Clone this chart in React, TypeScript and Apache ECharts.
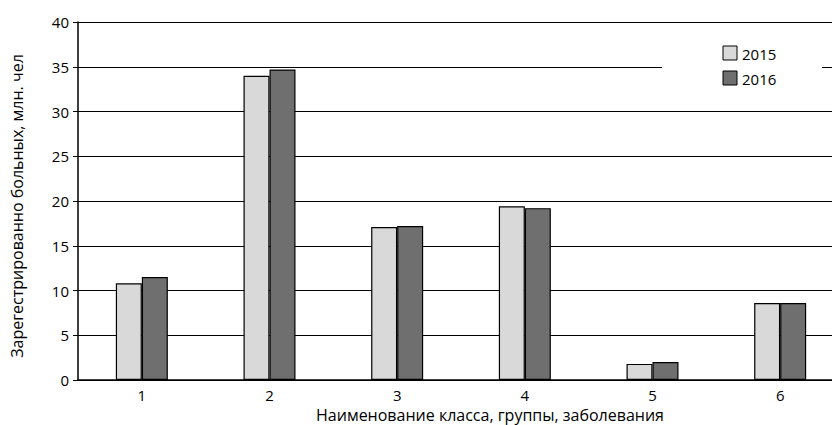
import React, { useEffect, useRef } from "react";
import * as echarts from "echarts";

const categories = ["1", "2", "3", "4", "5", "6"];
const values2015 = [10.8, 34.0, 17.1, 19.4, 1.8, 8.6];
const values2016 = [11.5, 34.7, 17.2, 19.2, 2.0, 8.6];
const seriesNames = ["2015", "2016"];
const yTitle = "Зарегестрированно больных, млн. чел";
const xTitle = "Наименование класса, группы, заболевания";

const FONT = "'Open Sans', sans-serif";

export default function App() {
  const ref = useRef<HTMLDivElement>(null);
  useEffect(() => {
    if (!ref.current) return;
    const chart = echarts.init(ref.current, undefined, { renderer: "svg" });
    chart.setOption({
      animation: false,
      backgroundColor: "#ffffff",
      grid: { left: 78, width: 766, top: 22, height: 358, containLabel: false },
      xAxis: {
        type: "category",
        data: categories,
        axisLine: { show: true, lineStyle: { color: "#000", width: 1.5 } },
        axisTick: { show: false },
        axisLabel: { color: "#000", fontSize: 15, fontFamily: FONT, margin: 7 },
        splitLine: { show: false },
      },
      yAxis: {
        type: "value",
        min: 0,
        max: 40,
        interval: 5,
        axisLine: { show: true, lineStyle: { color: "#000", width: 1.5 } },
        axisTick: { show: true, length: 5, lineStyle: { color: "#000" } },
        axisLabel: { color: "#000", fontSize: 15, fontFamily: FONT, margin: 9 },
        splitLine: { show: true, lineStyle: { color: "#000", width: 1.2 } },
      },
      legend: { show: false },
      series: [
        {
          name: seriesNames[0],
          type: "bar",
          data: values2015,
          barWidth: 26,
          barGap: "0%",
          itemStyle: { color: "#d9d9d9", borderColor: "#000", borderWidth: 1.2 },
        },
        {
          name: seriesNames[1],
          type: "bar",
          data: values2016,
          barWidth: 26,
          barGap: "0%",
          itemStyle: { color: "#6f6f6f", borderColor: "#000", borderWidth: 1.2 },
        },
      ],
      graphic: [
        {
          type: "rect",
          shape: { x: 662, y: 40, width: 160, height: 56 },
          style: { fill: "#fff" },
          z: 100,
        },
        {
          type: "rect",
          shape: { x: 723, y: 46, width: 14, height: 14 },
          style: { fill: "#d9d9d9", stroke: "#000", lineWidth: 1 },
          z: 101,
        },
        {
          type: "text",
          x: 742,
          y: 54,
          style: { text: seriesNames[0], fontSize: 15, fontFamily: FONT, fill: "#000", verticalAlign: "middle" },
          z: 101,
        },
        {
          type: "rect",
          shape: { x: 723, y: 71, width: 14, height: 14 },
          style: { fill: "#6f6f6f", stroke: "#000", lineWidth: 1 },
          z: 101,
        },
        {
          type: "text",
          x: 742,
          y: 79,
          style: { text: seriesNames[1], fontSize: 15, fontFamily: FONT, fill: "#000", verticalAlign: "middle" },
          z: 101,
        },
        {
          type: "text",
          x: 17,
          y: 206,
          rotation: Math.PI / 2,
          style: { text: yTitle, fontSize: 16, fontFamily: FONT, fill: "#000", align: "center", verticalAlign: "middle" },
        },
        {
          type: "text",
          x: 490,
          y: 415,
          style: { text: xTitle, fontSize: 16, fontFamily: FONT, fill: "#000", align: "center", verticalAlign: "middle" },
        },
      ],
    });
    return () => chart.dispose();
  }, []);
  return (
    <div style={{ position: "fixed", left: 0, top: 0, width: 832, height: 425, overflow: "hidden", background: "#fff" }}>
      <div ref={ref} style={{ width: 860, height: 425 }} />
    </div>
  );
}
